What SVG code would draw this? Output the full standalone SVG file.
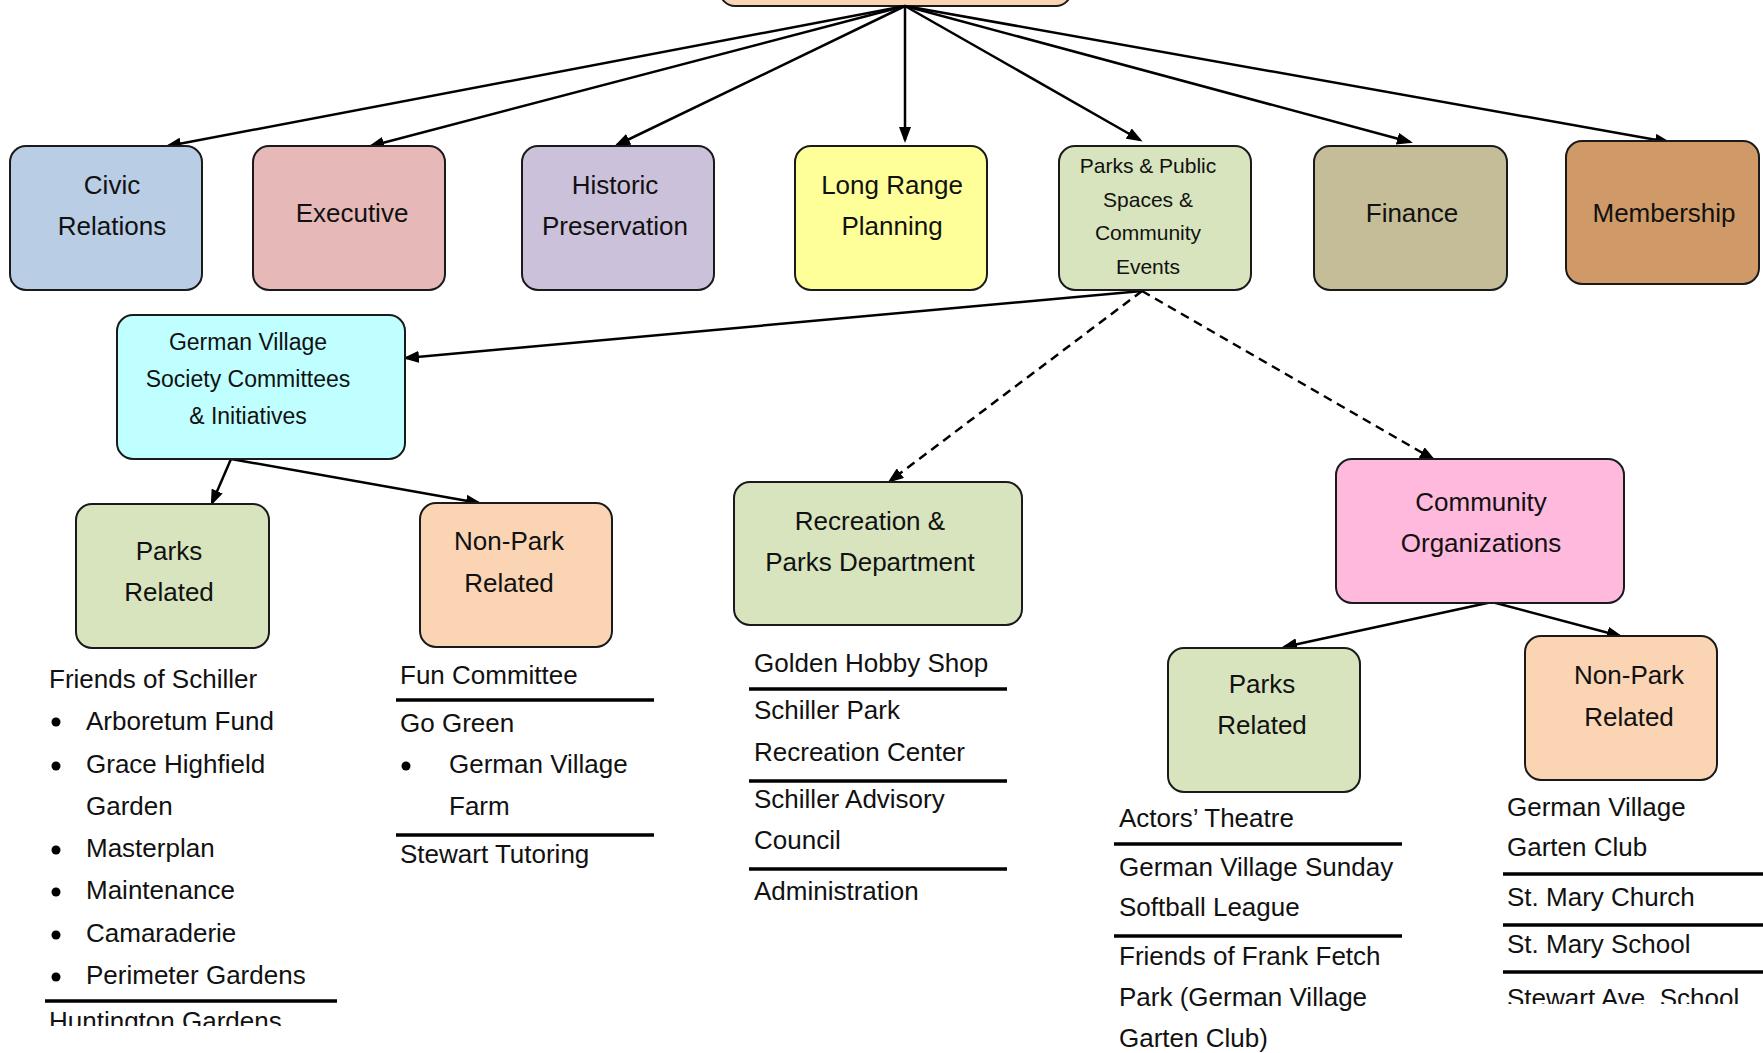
<svg xmlns="http://www.w3.org/2000/svg" width="1763" height="1053" viewBox="0 0 1763 1053">
<style>
.box{stroke:#1a1a1a;stroke-width:2}
.t{font-family:"Liberation Sans",Arial,sans-serif;font-size:26px;fill:#111}
.c{text-anchor:middle}
.s23{font-size:23px}
.s21{font-size:21px}
.con{fill:none;stroke:#000;stroke-width:2.5}
.dash{stroke-dasharray:9 6}
.rule{stroke:#000;stroke-width:3.5}
</style>
<defs>
<marker id="ah" markerWidth="16" markerHeight="12" refX="13" refY="6" orient="auto" markerUnits="userSpaceOnUse">
<path d="M0,0 L16,6 L0,12 z" fill="#000"/>
</marker>
<clipPath id="clipL"><rect x="0" y="0" width="400" height="1026"/></clipPath>
<clipPath id="clipR"><rect x="1480" y="0" width="283" height="1004"/></clipPath>
</defs>

<g id="top">
<rect class="box" x="720" y="-40" width="351" height="46" rx="15" fill="#FBD4B4"/>
</g>

<g id="connectors">
<line class="con" x1="905" y1="6" x2="168" y2="146" marker-end="url(#ah)"/>
<line class="con" x1="905" y1="6" x2="371" y2="146" marker-end="url(#ah)"/>
<line class="con" x1="905" y1="6" x2="617" y2="145" marker-end="url(#ah)"/>
<line class="con" x1="905" y1="6" x2="905" y2="140" marker-end="url(#ah)"/>
<line class="con" x1="905" y1="6" x2="1140" y2="140" marker-end="url(#ah)"/>
<line class="con" x1="905" y1="6" x2="1410" y2="142" marker-end="url(#ah)"/>
<line class="con" x1="905" y1="6" x2="1668" y2="142" marker-end="url(#ah)"/>
<line class="con" x1="1142" y1="291" x2="406" y2="358" marker-end="url(#ah)"/>
<line class="con dash" x1="1142" y1="291" x2="890" y2="481" marker-end="url(#ah)"/>
<line class="con dash" x1="1142" y1="291" x2="1433" y2="459" marker-end="url(#ah)"/>
<line class="con" x1="231" y1="459" x2="212" y2="503" marker-end="url(#ah)"/>
<line class="con" x1="231" y1="459" x2="479" y2="503" marker-end="url(#ah)"/>
<line class="con" x1="1492" y1="602" x2="1284" y2="647" marker-end="url(#ah)"/>
<line class="con" x1="1492" y1="602" x2="1620" y2="636" marker-end="url(#ah)"/>
</g>

<g id="civic">
<rect class="box" x="10" y="146" width="192" height="144" rx="16" fill="#B9CDE5"/>
<text class="t c" x="112" y="194">Civic</text>
<text class="t c" x="112" y="235">Relations</text>
</g>
<g id="executive">
<rect class="box" x="253" y="146" width="192" height="144" rx="16" fill="#E6B9B8"/>
<text class="t c" x="352" y="222">Executive</text>
</g>
<g id="historic">
<rect class="box" x="522" y="146" width="192" height="144" rx="16" fill="#CCC1DA"/>
<text class="t c" x="615" y="194">Historic</text>
<text class="t c" x="615" y="235">Preservation</text>
</g>
<g id="longrange">
<rect class="box" x="795" y="146" width="192" height="144" rx="16" fill="#FFFF99"/>
<text class="t c" x="892" y="194">Long Range</text>
<text class="t c" x="892" y="235">Planning</text>
</g>
<g id="parkspublic">
<rect class="box" x="1059" y="146" width="192" height="144" rx="16" fill="#D7E4BD"/>
<text class="t c s21" x="1148" y="173">Parks &amp; Public</text>
<text class="t c s21" x="1148" y="207">Spaces &amp;</text>
<text class="t c s21" x="1148" y="240">Community</text>
<text class="t c s21" x="1148" y="274">Events</text>
</g>
<g id="finance">
<rect class="box" x="1314" y="146" width="193" height="144" rx="16" fill="#C4BD97"/>
<text class="t c" x="1412" y="222">Finance</text>
</g>
<g id="membership">
<rect class="box" x="1566" y="141" width="193" height="143" rx="16" fill="#CF9A67"/>
<text class="t c" x="1664" y="222">Membership</text>
</g>

<g id="gvs">
<rect class="box" x="117" y="315" width="288" height="144" rx="16" fill="#BFFFFF"/>
<text class="t c s23" x="248" y="350">German Village</text>
<text class="t c s23" x="248" y="387">Society Committees</text>
<text class="t c s23" x="248" y="424">&amp; Initiatives</text>
</g>

<g id="parksL">
<rect class="box" x="76" y="504" width="193" height="144" rx="16" fill="#D7E4BD"/>
<text class="t c" x="169" y="560">Parks</text>
<text class="t c" x="169" y="601">Related</text>
</g>
<g id="nonparkL">
<rect class="box" x="420" y="503" width="192" height="144" rx="16" fill="#FBD4B4"/>
<text class="t c" x="509" y="550">Non-Park</text>
<text class="t c" x="509" y="592">Related</text>
</g>

<g id="recparks">
<rect class="box" x="734" y="482" width="288" height="143" rx="16" fill="#D7E4BD"/>
<text class="t c" x="870" y="530">Recreation &amp;</text>
<text class="t c" x="870" y="571">Parks Department</text>
</g>

<g id="community">
<rect class="box" x="1336" y="459" width="288" height="144" rx="16" fill="#FFB9DC"/>
<text class="t c" x="1481" y="511">Community</text>
<text class="t c" x="1481" y="552">Organizations</text>
</g>

<g id="parksR">
<rect class="box" x="1168" y="648" width="192" height="144" rx="16" fill="#D7E4BD"/>
<text class="t c" x="1262" y="693">Parks</text>
<text class="t c" x="1262" y="734">Related</text>
</g>
<g id="nonparkR">
<rect class="box" x="1525" y="636" width="192" height="144" rx="16" fill="#FBD4B4"/>
<text class="t c" x="1629" y="684">Non-Park</text>
<text class="t c" x="1629" y="726">Related</text>
</g>

<g id="list-parksL" clip-path="url(#clipL)">
<text class="t" x="49" y="688">Friends of Schiller</text>
<circle cx="56" cy="722" r="4.5"/>
<text class="t" x="86" y="730">Arboretum Fund</text>
<circle cx="56" cy="766" r="4.5"/>
<text class="t" x="86" y="773">Grace Highfield</text>
<text class="t" x="86" y="815">Garden</text>
<circle cx="56" cy="850" r="4.5"/>
<text class="t" x="86" y="857">Masterplan</text>
<circle cx="56" cy="892" r="4.5"/>
<text class="t" x="86" y="899">Maintenance</text>
<circle cx="56" cy="935" r="4.5"/>
<text class="t" x="86" y="942">Camaraderie</text>
<circle cx="56" cy="977" r="4.5"/>
<text class="t" x="86" y="984">Perimeter Gardens</text>
<line class="rule" x1="45" y1="1001" x2="337" y2="1001"/>
<text class="t" x="49" y="1030">Huntington Gardens</text>
</g>

<g id="list-nonparkL">
<text class="t" x="400" y="684">Fun Committee</text>
<line class="rule" x1="396" y1="700" x2="654" y2="700"/>
<text class="t" x="400" y="732">Go Green</text>
<circle cx="406" cy="766" r="4.5"/>
<text class="t" x="449" y="773">German Village</text>
<text class="t" x="449" y="815">Farm</text>
<line class="rule" x1="396" y1="835" x2="654" y2="835"/>
<text class="t" x="400" y="863">Stewart Tutoring</text>
</g>

<g id="list-recparks">
<text class="t" x="754" y="672">Golden Hobby Shop</text>
<line class="rule" x1="749" y1="689" x2="1007" y2="689"/>
<text class="t" x="754" y="719">Schiller Park</text>
<text class="t" x="754" y="761">Recreation Center</text>
<line class="rule" x1="749" y1="781" x2="1007" y2="781"/>
<text class="t" x="754" y="808">Schiller Advisory</text>
<text class="t" x="754" y="849">Council</text>
<line class="rule" x1="749" y1="869" x2="1007" y2="869"/>
<text class="t" x="754" y="900">Administration</text>
</g>

<g id="list-parksR">
<text class="t" x="1119" y="827">Actors’ Theatre</text>
<line class="rule" x1="1114" y1="844" x2="1402" y2="844"/>
<text class="t" x="1119" y="876">German Village Sunday</text>
<text class="t" x="1119" y="916">Softball League</text>
<line class="rule" x1="1114" y1="936" x2="1402" y2="936"/>
<text class="t" x="1119" y="965">Friends of Frank Fetch</text>
<text class="t" x="1119" y="1006">Park (German Village</text>
<text class="t" x="1119" y="1047">Garten Club)</text>
</g>

<g id="list-nonparkR" clip-path="url(#clipR)">
<text class="t" x="1507" y="816">German Village</text>
<text class="t" x="1507" y="856">Garten Club</text>
<line class="rule" x1="1503" y1="874" x2="1763" y2="874"/>
<text class="t" x="1507" y="906">St. Mary Church</text>
<line class="rule" x1="1503" y1="925" x2="1763" y2="925"/>
<text class="t" x="1507" y="953">St. Mary School</text>
<line class="rule" x1="1503" y1="972" x2="1763" y2="972"/>
<text class="t" x="1507" y="1007">Stewart Ave. School</text>
</g>
</svg>
